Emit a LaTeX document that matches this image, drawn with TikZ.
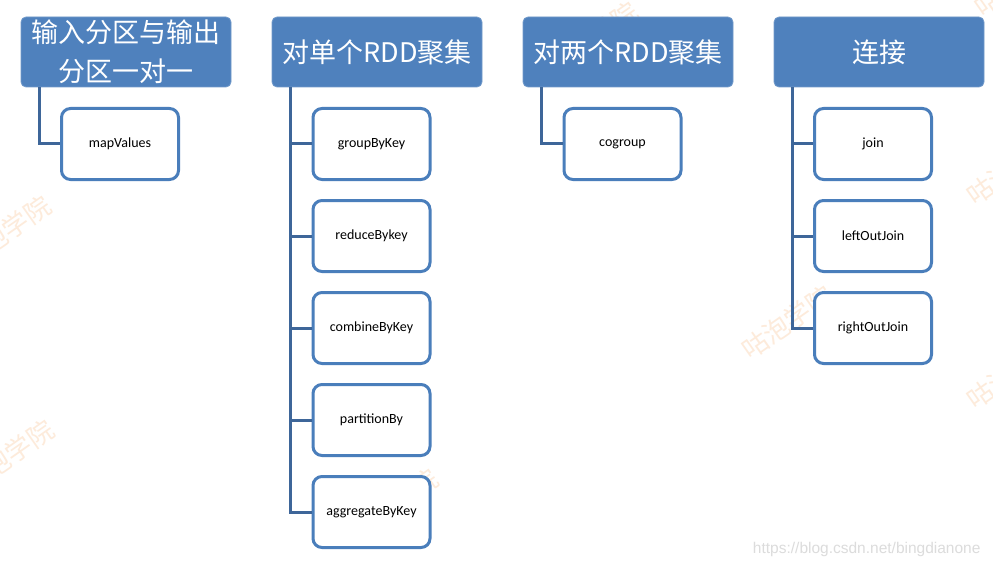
\documentclass[tikz,border=0pt]{standalone}
\usepackage{fontspec}
\setmainfont{Carlito}
\newfontfamily\cjkfont{Noto Sans CJK SC}
\newfontfamily\urlfont{Liberation Sans}
\definecolor{hdrblue}{HTML}{4F81BD}
\definecolor{boxblue}{HTML}{4A7EBB}
\definecolor{connblue}{HTML}{3E6699}
\definecolor{wmark}{HTML}{FDEBDB}
\definecolor{urlgray}{HTML}{DCDCDC}
\begin{document}
\begin{tikzpicture}[x=1pt,y=-1pt,
  hdr/.style={draw=hdrblue!80!white, line width=0.8pt, fill=hdrblue, rounded corners=5pt,
    minimum width=210pt, minimum height=70pt, inner sep=0pt, text=white,
    font=\cjkfont\fontsize{27}{39}\selectfont, align=center},
  leaf/.style={draw=boxblue, line width=3pt, fill=white, rounded corners=9pt,
    minimum width=117pt, minimum height=71pt, inner sep=0pt,
    font=\fontsize{14}{16}\selectfont},
  conn/.style={draw=connblue, line width=3pt},
  wm/.style={text=wmark, rotate=35, font=\cjkfont\fontsize{26}{28}\selectfont}
]
\useasboundingbox (0,0) rectangle (993,567);
\fill[white] (0,0) rectangle (993,567);
% watermarks
\node[wm] (w1) at (5,232) {咕泡学院};
\node[wm] (w2) at (8,456) {咕泡学院};
\node[wm] (w3) at (392,505) {咕泡学院};
\node[wm] (w4) at (787,322) {咕泡学院};
\node[wm] (w5) at (592,38) {咕泡学院};
\node[wm] (w6) at (1012,168) {咕泡学院};
\node[wm] (w7) at (1012,372) {咕泡学院};
\node[wm] (w8) at (1020,-20) {咕泡学院};
% headers
\node[hdr] (h1) at (126,52) {输入分区与输出\\分区一对一};
\node[hdr] (h2) at (377,52) {对单个RDD聚集};
\node[hdr] (h3) at (628,52) {对两个RDD聚集};
\node[hdr] (h4) at (879,52) {连接};
% spine start points
\coordinate (v1) at ([xshift=19pt]h1.south west);
\coordinate (v2) at ([xshift=19pt]h2.south west);
\coordinate (v3) at ([xshift=19pt]h3.south west);
\coordinate (v4) at ([xshift=19pt]h4.south west);
% leaves
\node[leaf] (c11) at (120,144) {mapValues};
\node[leaf] (c21) at (371.5,144) {groupByKey};
\node[leaf] (c22) at (371.5,236) {reduceBykey};
\node[leaf] (c23) at (371.5,328) {combineByKey};
\node[leaf] (c24) at (371.5,420) {partitionBy};
\node[leaf] (c25) at (371.5,512) {aggregateByKey};
\node[leaf] (c31) at (622.5,144) {cogroup};
\node[leaf] (c41) at (873,144) {join};
\node[leaf] (c42) at (873,236) {leftOutJoin};
\node[leaf] (c43) at (873,328) {rightOutJoin};
% connectors
\draw[conn] (v1) |- (c11.west);
\foreach \c in {c21,c22,c23,c24,c25}{\draw[conn] (v2) |- (\c.west);}
\draw[conn] (v3) |- (c31.west);
\foreach \c in {c41,c42,c43}{\draw[conn] (v4) |- (\c.west);}
% url watermark
\node[text=urlgray, font=\urlfont\fontsize{15.5}{17}\selectfont, anchor=east] (url) at (984,549) {https://blog.csdn.net/bingdianone};
\end{tikzpicture}
\end{document}
